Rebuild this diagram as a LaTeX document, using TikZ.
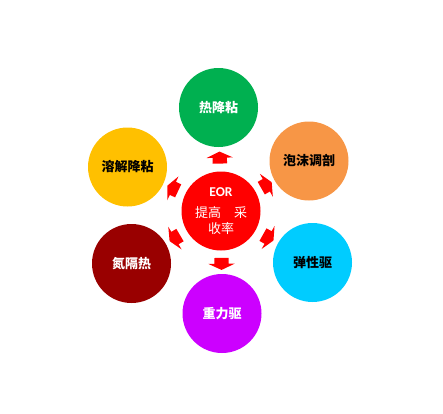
\documentclass[tikz,border=0pt]{standalone}
\usepackage{fontspec}
\newfontfamily\cjk{Noto Sans CJK SC}
\newfontfamily\latinf{Carlito}
\usetikzlibrary{shapes.arrows}
\definecolor{cgreen}{HTML}{00B050}
\definecolor{corange}{HTML}{F79646}
\definecolor{cyellow}{HTML}{FFC000}
\definecolor{cdarkred}{HTML}{990000}
\definecolor{ccyan}{HTML}{00CCFF}
\definecolor{cpurple}{HTML}{CC00FF}
\definecolor{cred}{HTML}{FF0000}
\tikzset{
  ball/.style={circle, draw=none, minimum size=79pt, inner sep=0pt,
    font=\cjk\bfseries\fontsize{13pt}{15pt}\selectfont},
  blockarrow/.style={shape=single arrow, fill=cred, draw=none,
    minimum height=12pt, inner xsep=0pt, inner ysep=7pt,
    single arrow head extend=6pt, single arrow tip angle=130,
    sloped, allow upside down, pos=0.5}
}
\begin{document}
\begin{tikzpicture}[x=1pt,y=-1pt]
\useasboundingbox (0,0) rectangle (443,413);
\node[ball, fill=cred, text=white, align=center,
  font=\cjk\fontsize{13pt}{15.5pt}\selectfont] (c) at (221,211)
  {{\latinf\bfseries\fontsize{13.5pt}{15pt}\selectfont EOR}\\[6pt]提高　采\\收率};
\node[ball, fill=cgreen, text=white] (t) at (218.5,107.5) {热降粘};
\node[ball, fill=cyellow, text=black] (ul) at (127.5,167) {溶解降粘};
\node[ball, fill=corange, text=black] (ur) at (309,161) {泡沫调剖};
\node[ball, fill=cdarkred, text=white] (ll) at (131.5,263.5) {氮隔热};
\node[ball, fill=ccyan, text=black] (lr) at (312.5,262.5) {弹性驱};
\node[ball, fill=cpurple, text=white] (b) at (222,313.5) {重力驱};
\foreach \n in {t,ul,ur,ll,lr,b}
  \path (c) -- (\n) node[blockarrow] (a\n) {};
\end{tikzpicture}
\end{document}
